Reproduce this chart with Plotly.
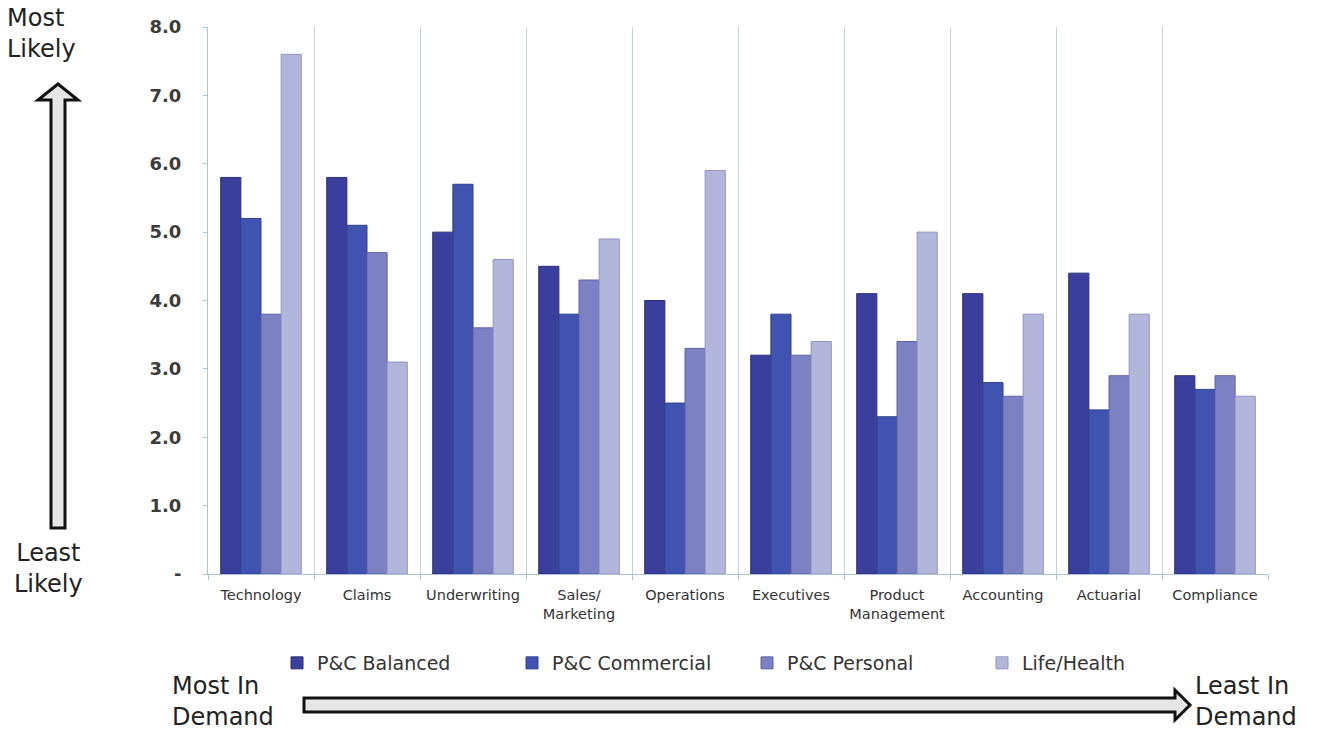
import plotly.graph_objects as go

categories = ["Technology", "Claims", "Underwriting", "Sales/<br>Marketing", "Operations",
              "Executives", "Product<br>Management", "Accounting", "Actuarial", "Compliance"]
series_names = ["P&C Balanced", "P&C Commercial", "P&C Personal", "Life/Health"]
pc_balanced = [5.8, 5.8, 5.0, 4.5, 4.0, 3.2, 4.1, 4.1, 4.4, 2.9]
pc_commercial = [5.2, 5.1, 5.7, 3.8, 2.5, 3.8, 2.3, 2.8, 2.4, 2.7]
pc_personal = [3.8, 4.7, 3.6, 4.3, 3.3, 3.2, 3.4, 2.6, 2.9, 2.9]
life_health = [7.6, 3.1, 4.6, 4.9, 5.9, 3.4, 5.0, 3.8, 3.8, 2.6]
y_tickvals = [0, 1, 2, 3, 4, 5, 6, 7, 8]
y_ticktext = ["-", "1.0", "2.0", "3.0", "4.0", "5.0", "6.0", "7.0", "8.0"]
colors = ["#3a3e9c", "#4153b0", "#7b81c2", "#b3b6db"]
line_colors = ["#2c2f7a", "#30408c", "#5e64a4", "#9094c0"]

W, H = 1327, 730
L, R, T, B = 208, 1268, 27, 574

def px(x):
    return (x - L) / (R - L)

def py(y):
    return (B - y) / (B - T)

fig = go.Figure()
xs = list(range(len(categories)))
for name, vals, c, lc in zip(series_names, [pc_balanced, pc_commercial, pc_personal, life_health], colors, line_colors):
    fig.add_trace(go.Bar(x=xs, y=vals, name=name, marker=dict(color=c, line=dict(color=lc, width=1))))

fig.update_layout(
    width=W, height=H,
    margin=dict(l=L, r=W - R, t=T, b=H - B),
    paper_bgcolor="white", plot_bgcolor="white",
    barmode="group", bargap=0.24, bargroupgap=0.0,
    showlegend=True,
    legend=dict(orientation="h", x=px(277), y=py(663), xanchor="left", yanchor="middle",
                entrywidth=190, entrywidthmode="pixels",
                font=dict(family="DejaVu Sans, Verdana, sans-serif", size=19, color="#333333"),
                itemwidth=30, traceorder="normal"),
    xaxis=dict(range=[-0.5, 9.5], tickmode="array", tickvals=xs, ticktext=categories,
               showgrid=False, ticks="", showline=True, linecolor="#a9c4d6", linewidth=1,
               ticklabelstandoff=8,
               tickfont=dict(family="DejaVu Sans, Verdana, sans-serif", size=14.5, color="#333333"),
               minor=dict(tickmode="linear", tick0=0.5, dtick=1, showgrid=True, gridcolor="#c2d3de",
                          gridwidth=1, ticks="outside", ticklen=5, tickcolor="#a9c4d6"),
               zeroline=False, fixedrange=True),
    yaxis=dict(range=[0, 8], tickmode="array", tickvals=y_tickvals, ticktext=y_ticktext,
               showgrid=False, showline=True, linecolor="#a9c4d6", linewidth=1,
               ticks="outside", ticklen=4, tickcolor="#a9c4d6", ticklabelstandoff=18,
               tickfont=dict(family="DejaVu Sans, Verdana, sans-serif", size=18, color="#3c3c3c",
                             weight="bold"),
               zeroline=False, fixedrange=True),
)

txt_font = dict(family="DejaVu Sans, Verdana, sans-serif", size=24, color="#222222")
fig.add_annotation(text="Most<br>Likely", xref="paper", yref="paper", x=px(5), y=py(2),
                   xanchor="left", yanchor="top", showarrow=False, align="left", font=txt_font)
fig.add_annotation(text="Least<br>Likely", xref="paper", yref="paper", x=px(48), y=py(537),
                   xanchor="center", yanchor="top", showarrow=False, align="center", font=txt_font)
fig.add_annotation(text="Most In<br>Demand", xref="paper", yref="paper", x=px(170), y=py(670),
                   xanchor="left", yanchor="top", showarrow=False, align="left", font=txt_font)
fig.add_annotation(text="Least In<br>Demand", xref="paper", yref="paper", x=px(1193), y=py(670),
                   xanchor="left", yanchor="top", showarrow=False, align="left", font=txt_font)

def path(points):
    s = "M " + " L ".join(f"{px(x):.5f},{py(y):.5f}" for x, y in points) + " Z"
    return s

# vertical arrow (up)
v_arrow = [(51, 528), (51, 100), (38, 100), (58, 84), (78, 100), (65, 100), (65, 528)]
fig.add_shape(type="path", xref="paper", yref="paper", path=path(v_arrow),
              fillcolor="#e6e6e6", line=dict(color="#111111", width=3))
# horizontal arrow (right)
h_arrow = [(304, 698), (1175, 698), (1175, 690), (1190, 705), (1175, 720), (1175, 712), (304, 712)]
fig.add_shape(type="path", xref="paper", yref="paper", path=path(h_arrow),
              fillcolor="#e6e6e6", line=dict(color="#111111", width=3))

fig.write_html("out.html")
